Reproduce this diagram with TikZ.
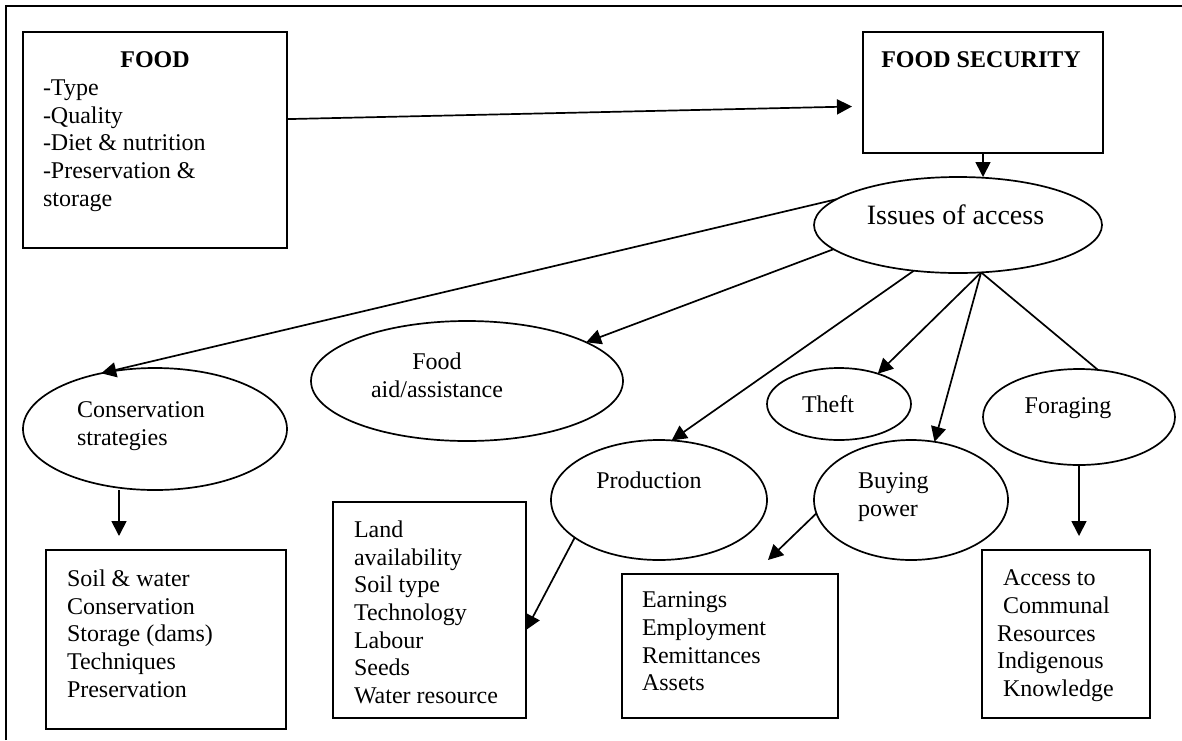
\documentclass[tikz,border=0pt]{standalone}
\usepackage{fontspec}
\setmainfont{Liberation Serif}
\usetikzlibrary{arrows.meta,shapes.geometric}
\begin{document}
\begin{tikzpicture}[x=0.5pt,y=-0.5pt,
  every node/.style={font=\fontsize{12pt}{13.8pt}\selectfont},
  box/.style={draw,line width=0.95pt,rectangle,inner sep=0pt,outer sep=0pt},
  ell/.style={draw,line width=0.85pt,ellipse,inner sep=0pt,outer sep=0pt},
  txt/.style={inner sep=0pt,outer sep=0pt,align=left,anchor=north west},
  lbl/.style={inner sep=0pt,outer sep=0pt,anchor=base},
  arr/.style={line width=0.85pt,-{Triangle[length=7.5pt,width=7.5pt]}},
  ln/.style={line width=0.85pt}]
\useasboundingbox (0,0) rectangle (1182,740);
% outer frame (top and left)
\draw[line width=1.1pt] (6,740) -- (6,6) -- (1182,6);
% boxes
\node[box,minimum width=132pt,minimum height=108pt] (food) at (155,140) {};
\node[box,minimum width=120pt,minimum height=60.5pt] (fs) at (983,92.5) {};
\node[box,minimum width=120pt,minimum height=89.5pt] (consbox) at (166,639.5) {};
\node[box,minimum width=96.5pt,minimum height=108pt] (land) at (429.5,610) {};
\node[box,minimum width=108pt,minimum height=72pt] (earn) at (730,646) {};
\node[box,minimum width=84pt,minimum height=84pt] (access) at (1066,634) {};
% ellipses
\node[ell,minimum width=144pt,minimum height=48pt] (issues) at (958,225) {};
\node[ell,minimum width=132pt,minimum height=61pt] (cons) at (155,429) {};
\node[ell,minimum width=156pt,minimum height=60pt] (aid) at (467,381) {};
\node[ell,minimum width=108pt,minimum height=60pt] (prod) at (659,500) {};
\node[ell,minimum width=72pt,minimum height=36pt] (theft) at (839,404) {};
\node[ell,minimum width=97pt,minimum height=60pt] (buy) at (911,500) {};
\node[ell,minimum width=96pt,minimum height=48pt] (forag) at (1079,417) {};
% texts
\node[lbl] (foodT) at (155,67) {\textbf{FOOD}};
\node[txt] (foodL) at (43,80) {-Type\\-Quality\\-Diet \& nutrition\\-Preservation \&\\storage};
\node[lbl] (fsT) at (981,67) {\textbf{FOOD SECURITY}};
\node[lbl,font=\fontsize{14pt}{16pt}\selectfont] (issuesT) at (955.5,224) {Issues of access};
\node[txt,align=center,anchor=north] (aidT) at (437,353) {Food\\aid/assistance};
\node[txt] (consT) at (77,402) {Conservation\\strategies};
\node[lbl] (prodT) at (649,488) {Production};
\node[lbl] (theftT) at (828,412) {Theft};
\node[lbl] (foragT) at (1068,413) {Foraging};
\node[txt] (buyT) at (858,473) {Buying\\power};
\node[txt] (consL) at (67,570) {Soil \& water\\Conservation\\Storage (dams)\\Techniques\\Preservation};
\node[txt] (landL) at (354,521) {Land\\availability\\Soil type\\Technology\\Labour\\Seeds\\Water resource};
\node[txt] (earnL) at (642,592) {Earnings\\Employment\\Remittances\\Assets};
\node[txt] (accessL) at (997,570) {\hspace{3pt}Access to\\\hspace{3pt}Communal\\Resources\\Indigenous\\\hspace{3pt}Knowledge};
% connectors
\draw[arr] (food.9.9) -- ([xshift=-5.5pt,yshift=-7pt]fs.west);
\draw[arr] (fs.south) -- (fs.south |- issues.north);
\draw[arr] (issues.168) -- (cons.134);
\draw[arr] (issues.191) -- (aid.18);
\draw[arr] (issues.226) -- (prod.78);
\draw[arr] (issues.296.6) -- (theft.38);
\draw[arr] (issues.296.6) -- (buy.68);
\draw[ln] (issues.296.6) -- (forag.68);
\draw[arr] ([xshift=-18pt]cons.south) -- ([xshift=-23.5pt,yshift=7pt]consbox.north);
\draw[arr] (prod.204) -- ([yshift=-10pt]land.east);
\draw[arr] (buy.188) -- ([xshift=19pt,yshift=7pt]earn.north);
\draw[arr] (forag.south) -- ([yshift=7pt]forag.south |- access.north);
\end{tikzpicture}
\end{document}
